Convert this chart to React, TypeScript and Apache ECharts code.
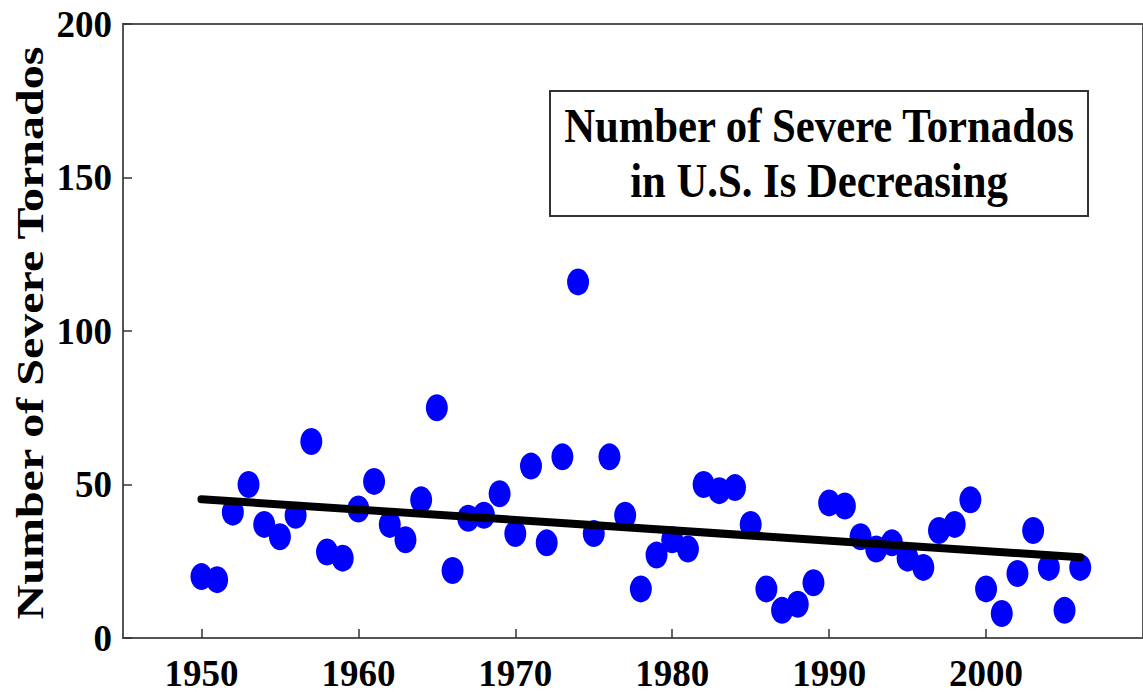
import React, { useEffect, useRef } from "react";
import * as echarts from "echarts";

const years = [
  1950, 1951, 1952, 1953, 1954, 1955, 1956, 1957, 1958, 1959,
  1960, 1961, 1962, 1963, 1964, 1965, 1966, 1967, 1968, 1969,
  1970, 1971, 1972, 1973, 1974, 1975, 1976, 1977, 1978, 1979,
  1980, 1981, 1982, 1983, 1984, 1985, 1986, 1987, 1988, 1989,
  1990, 1991, 1992, 1993, 1994, 1995, 1996, 1997, 1998, 1999,
  2000, 2001, 2002, 2003, 2004, 2005, 2006,
];
const severeTornados = [
  20, 19, 41, 50, 37, 33, 40, 64, 28, 26,
  42, 51, 37, 32, 45, 75, 22, 39, 40, 47,
  34, 56, 31, 59, 116, 34, 59, 40, 16, 27,
  32, 29, 50, 48, 49, 37, 16, 9, 11, 18,
  44, 43, 33, 29, 31, 26, 23, 35, 37, 45,
  16, 8, 21, 35, 23, 9, 23,
];
const trendYears = [1950, 2006];
const trendValues = [45.2, 26.3];
const xTickValues = [1950, 1960, 1970, 1980, 1990, 2000];
const yAxisTitle = "Number of Severe Tornados";
const titleLines = ["Number of Severe Tornados", "in U.S. Is Decreasing"];

const FONT = "'Liberation Serif', 'Times New Roman', serif";

export default function App() {
  const ref = useRef<HTMLDivElement>(null);
  useEffect(() => {
    if (!ref.current) return;
    const chart = echarts.init(ref.current, undefined, { renderer: "svg" });
    const axisColor = "#555";
    chart.setOption({
      animation: false,
      backgroundColor: "#ffffff",
      grid: {
        left: 123,
        top: 24,
        bottom: 54,
        right: -4,
        show: true,
        borderColor: axisColor,
        borderWidth: 2,
        containLabel: false,
      },
      xAxis: {
        type: "value",
        min: 1945,
        max: 2010,
        splitLine: { show: false },
        axisLine: { show: true, onZero: false, lineStyle: { color: axisColor, width: 2 } },
        axisTick: {
          show: true,
          inside: true,
          length: 9,
          customValues: xTickValues,
          lineStyle: { color: "#333", width: 1.5 },
        },
        axisLabel: {
          customValues: xTickValues,
          formatter: (v: number) => String(v),
          fontFamily: FONT,
          fontWeight: "bold",
          fontSize: 37,
          lineHeight: 30,
          color: "#000",
          margin: 20,
        },
      },
      yAxis: {
        type: "value",
        min: 0,
        max: 200,
        interval: 50,
        splitLine: { show: false },
        axisLine: { show: true, lineStyle: { color: axisColor, width: 2 } },
        axisTick: { show: true, inside: true, length: 9, lineStyle: { color: "#333", width: 1.5 } },
        axisLabel: {
          fontFamily: FONT,
          fontWeight: "bold",
          fontSize: 37,
          lineHeight: 30,
          color: "#000",
          margin: 11,
        },
      },
      series: [
        {
          type: "scatter",
          data: years.map((y, i) => [y, severeTornados[i]]),
          symbol: "circle",
          symbolSize: [22, 27],
          itemStyle: { color: "#0000ff", opacity: 1 },
          z: 2,
        },
        {
          type: "line",
          data: trendYears.map((y, i) => [y, trendValues[i]]),
          symbol: "none",
          lineStyle: { color: "#000", width: 8, cap: "round" },
          z: 3,
        },
      ],
      graphic: [
        {
          type: "rect",
          shape: { x: 550, y: 91, width: 538, height: 125 },
          style: { fill: "#fff", stroke: "#333", lineWidth: 2 },
          z: 10,
        },
        {
          type: "text",
          x: 819,
          y: 126,
          scaleX: 0.89,
          style: {
            text: titleLines[0],
            font: `bold 48px ${FONT}`,
            fill: "#000",
            align: "center",
            verticalAlign: "middle",
          },
          z: 11,
        },
        {
          type: "text",
          x: 819,
          y: 181,
          scaleX: 0.89,
          style: {
            text: titleLines[1],
            font: `bold 48px ${FONT}`,
            fill: "#000",
            align: "center",
            verticalAlign: "middle",
          },
          z: 11,
        },
        {
          type: "text",
          x: 30,
          y: 333,
          rotation: Math.PI / 2,
          scaleY: 0.8,
          style: {
            text: yAxisTitle,
            font: `bold 48px ${FONT}`,
            fill: "#000",
            align: "center",
            verticalAlign: "middle",
          },
          z: 11,
        },
      ],
    });
    return () => chart.dispose();
  }, []);
  return (
    <div
      ref={ref}
      style={{ position: "fixed", left: 0, top: 0, width: 1143, height: 692, background: "#fff" }}
    />
  );
}
